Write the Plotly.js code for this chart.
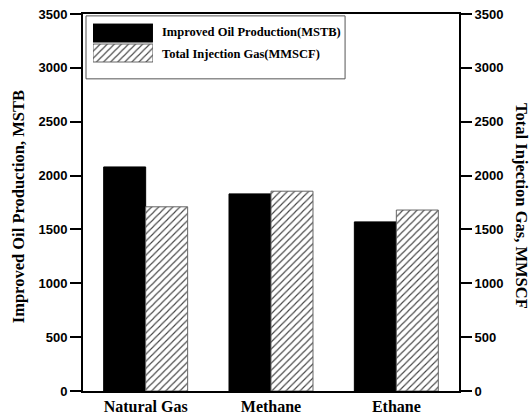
<!DOCTYPE html>
<html>
<head>
<meta charset="utf-8">
<script src="https://cdn.plot.ly/plotly-3.0.1.min.js"></script>
<style>html,body{margin:0;padding:0;background:#fff;}#chart{width:532px;height:418px;}</style>
</head>
<body>
<div id="chart"></div>
<script>
// Data
var categories = ['Natural Gas', 'Methane', 'Ethane'];
var oilProduction = [2080, 1830, 1570];   // MSTB (left axis)
var injectionGas = [1710, 1855, 1680];    // MMSCF (right axis)
var yTicks = [0, 500, 1000, 1500, 2000, 2500, 3000, 3500];
var legendLabels = ['Improved Oil Production(MSTB)', 'Total Injection Gas(MMSCF)'];
var leftTitle = 'Improved Oil Production, MSTB';
var rightTitle = 'Total Injection Gas, MMSCF';

var serif = 'Liberation Serif, Times New Roman, serif';
var sans = 'Liberation Sans, Arial, sans-serif';

var hatch = {shape: '/', size: 5, solidity: 0.22, fgcolor: '#444', bgcolor: '#fff'};

var traces = [
  {type: 'bar', x: categories, y: oilProduction, name: legendLabels[0],
   xaxis: 'x', yaxis: 'y', offsetgroup: '1',
   marker: {color: '#000', line: {color: '#000', width: 1}}, showlegend: false},
  {type: 'bar', x: categories, y: injectionGas, name: legendLabels[1],
   xaxis: 'x', yaxis: 'y2', offsetgroup: '2',
   marker: {color: '#fff', pattern: hatch, line: {color: '#666', width: 1}}, showlegend: false},
  // custom legend swatches on a hidden subplot
  {type: 'bar', orientation: 'h', x: [1], y: [1], width: 0.9,
   xaxis: 'x3', yaxis: 'y3', hoverinfo: 'skip', showlegend: false,
   marker: {color: '#000', line: {color: '#000', width: 1}}},
  {type: 'bar', orientation: 'h', x: [1], y: [0], width: 0.9,
   xaxis: 'x3', yaxis: 'y3', hoverinfo: 'skip', showlegend: false,
   marker: {color: '#fff', pattern: hatch, line: {color: '#666', width: 1}}}
];

var yCommon = {
  range: [0, 3500], tickvals: yTicks, ticktext: yTicks.map(String),
  ticks: 'outside', ticklen: 11, tickwidth: 2, tickcolor: '#000',
  showline: true, linewidth: 2, linecolor: '#000', showgrid: false, zeroline: false,
  tickfont: {family: sans, size: 13, color: '#000', weight: 'bold'}, fixedrange: true
};

var layout = {
  width: 532, height: 418,
  margin: {l: 83, r: 73, t: 14, b: 27},
  paper_bgcolor: '#fff', plot_bgcolor: '#fff',
  bargap: 0.33, bargroupgap: 0, barmode: 'group',
  showlegend: false,
  xaxis: {
    type: 'category', range: [-0.5, 2.5], domain: [0, 1],
    showline: true, linewidth: 2, linecolor: '#000', mirror: true,
    ticks: '', showgrid: false, zeroline: false,
    tickfont: {family: serif, size: 16, color: '#000', weight: 'bold'}
  },
  yaxis: Object.assign({}, yCommon, {side: 'left'}),
  yaxis2: Object.assign({}, yCommon, {side: 'right', overlaying: 'y', anchor: 'x'}),
  xaxis3: {domain: [0.0266, 0.186], range: [0, 1], visible: false, anchor: 'y3', fixedrange: true},
  yaxis3: {domain: [0.870, 0.976], range: [-0.5, 1.5], visible: false, anchor: 'x3', fixedrange: true},
  shapes: [
    {type: 'rect', xref: 'paper', yref: 'paper', x0: 0.008, x1: 0.697, y0: 0.828, y1: 0.995,
     line: {color: '#555', width: 1}, fillcolor: 'rgba(0,0,0,0)', layer: 'above'}
  ],
  annotations: [
    {xref: 'paper', yref: 'paper', x: 0.205, y: 0.952, xanchor: 'left', yanchor: 'middle',
     text: legendLabels[0], showarrow: false,
     font: {family: serif, size: 12.5, color: '#000', weight: 'bold'}},
    {xref: 'paper', yref: 'paper', x: 0.205, y: 0.894, xanchor: 'left', yanchor: 'middle',
     text: legendLabels[1], showarrow: false,
     font: {family: serif, size: 12.5, color: '#000', weight: 'bold'}},
    {xref: 'paper', yref: 'paper', x: -0.173, y: 0.49, xanchor: 'center', yanchor: 'middle',
     text: leftTitle, textangle: -90, showarrow: false,
     font: {family: serif, size: 16.5, color: '#000', weight: 'bold'}},
    {xref: 'paper', yref: 'paper', x: 1.168, y: 0.49, xanchor: 'center', yanchor: 'middle',
     text: rightTitle, textangle: 90, showarrow: false,
     font: {family: serif, size: 16.5, color: '#000', weight: 'bold'}}
  ]
};

Plotly.newPlot('chart', traces, layout, {staticPlot: true, displayModeBar: false});
</script>
</body>
</html>
